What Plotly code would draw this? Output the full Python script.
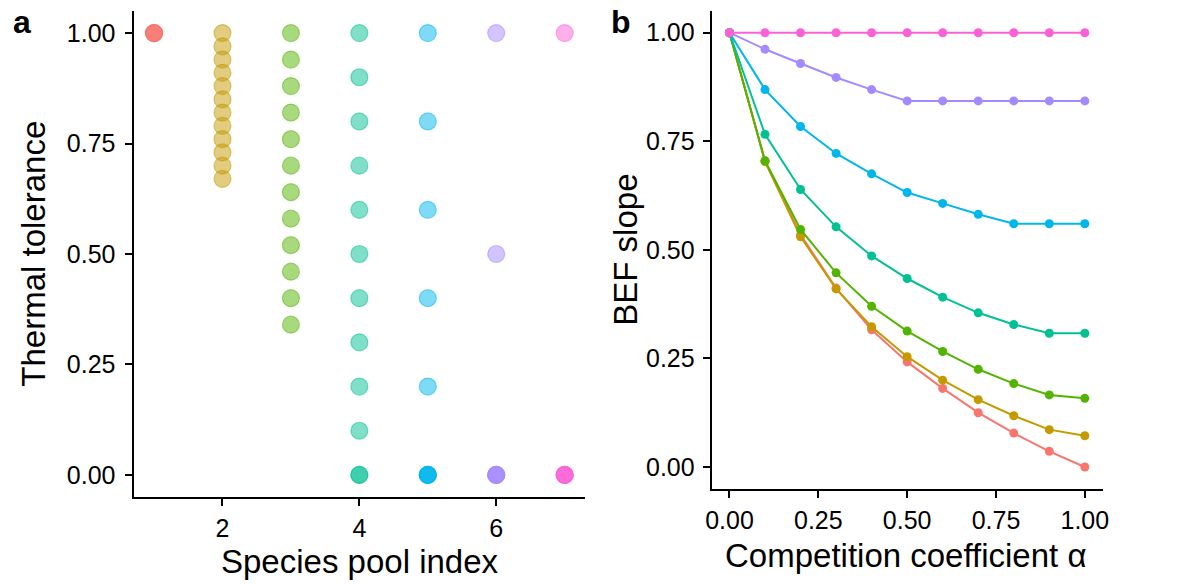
import plotly.graph_objects as go

# ---------------- data ----------------
pool_colors = ["#F8766D", "#C49A00", "#53B400", "#00C094", "#00B6EB", "#A58AFF", "#FB61D7"]
pool_ids = [1, 2, 3, 4, 5, 6, 7]

# Panel a: thermal tolerance of species in each pool (repeats = overlapping points)
pool1_tol = [1.0, 1.0, 1.0, 1.0]
pool2_tol = [1.00, 0.97, 0.94, 0.91, 0.88, 0.85, 0.82, 0.79, 0.76, 0.73, 0.70, 0.67]
pool3_tol = [1.00, 0.94, 0.88, 0.82, 0.76, 0.70, 0.64, 0.58, 0.52, 0.46, 0.40, 0.34]
pool4_tol = [1.0, 0.9, 0.8, 0.7, 0.6, 0.5, 0.4, 0.3, 0.2, 0.1, 0.0, 0.0]
pool5_tol = [1.0, 0.8, 0.6, 0.4, 0.2, 0.0, 0.0, 0.0, 0.0]
pool6_tol = [1.0, 0.5, 0.0, 0.0, 0.0, 0.0]
pool7_tol = [1.0, 0.0, 0.0, 0.0, 0.0]

# Panel b: BEF slope vs competition coefficient
alpha_vals = [0.0, 0.1, 0.2, 0.3, 0.4, 0.5, 0.6, 0.7, 0.8, 0.9, 1.0]
slope_pool1 = [1.0, 0.705, 0.535, 0.412, 0.316, 0.242, 0.181, 0.125, 0.078, 0.036, 0.0]
slope_pool2 = [1.0, 0.703, 0.530, 0.410, 0.323, 0.254, 0.200, 0.155, 0.118, 0.086, 0.072]
slope_pool3 = [1.0, 0.705, 0.547, 0.447, 0.370, 0.313, 0.266, 0.225, 0.192, 0.166, 0.158]
slope_pool4 = [1.0, 0.766, 0.639, 0.553, 0.486, 0.434, 0.391, 0.355, 0.328, 0.308, 0.308]
slope_pool5 = [1.0, 0.869, 0.784, 0.722, 0.675, 0.632, 0.607, 0.582, 0.560, 0.560, 0.560]
slope_pool6 = [1.0, 0.962, 0.929, 0.897, 0.869, 0.843, 0.843, 0.843, 0.843, 0.843, 0.843]
slope_pool7 = [1.0, 1.0, 1.0, 1.0, 1.0, 1.0, 1.0, 1.0, 1.0, 1.0, 1.0]

ya_ticks = [0.0, 0.25, 0.5, 0.75, 1.0]
xa_ticks = [2, 4, 6]
xb_ticks = [0.0, 0.25, 0.5, 0.75, 1.0]
yb_ticks = [0.0, 0.25, 0.5, 0.75, 1.0]

# ---------------- figure ----------------
W, H = 1203, 585
FONT = "Liberation Sans, Arial, sans-serif"


def rgba(hexc, a):
    h = hexc.lstrip("#")
    r, g, b = int(h[0:2], 16), int(h[2:4], 16), int(h[4:6], 16)
    return f"rgba({r},{g},{b},{a})"


fig = go.Figure()

tols = [pool1_tol, pool2_tol, pool3_tol, pool4_tol, pool5_tol, pool6_tol, pool7_tol]
for pid, tol, col in zip(pool_ids, tols, pool_colors):
    fig.add_trace(go.Scatter(
        x=[pid] * len(tol), y=tol, mode="markers",
        marker=dict(size=17, color=rgba(col, 0.5),
                    line=dict(color=rgba(col, 0.5), width=1.2)),
        xaxis="x", yaxis="y", showlegend=False, hoverinfo="x+y",
    ))

slopes = [slope_pool1, slope_pool2, slope_pool3, slope_pool4, slope_pool5, slope_pool6, slope_pool7]
for s, col in zip(slopes, pool_colors):
    fig.add_trace(go.Scatter(
        x=alpha_vals, y=s, mode="lines+markers",
        line=dict(color=col, width=2),
        marker=dict(size=9, color=col),
        xaxis="x2", yaxis="y2", showlegend=False,
    ))

axis_common = dict(
    showline=True, linecolor="black", linewidth=2,
    ticks="outside", ticklen=7, tickwidth=2, tickcolor="black",
    showgrid=False, zeroline=False,
    tickfont=dict(family=FONT, size=25, color="black"),
)

fig.update_layout(
    width=W, height=H,
    margin=dict(l=0, r=0, t=0, b=0),
    paper_bgcolor="white", plot_bgcolor="white",
    font=dict(family=FONT, color="black"),
    xaxis=dict(domain=[128 / W, 585 / W], range=[0.7, 7.3],
               tickvals=xa_ticks, anchor="y", ticklabelstandoff=1, **axis_common),
    yaxis=dict(domain=[(H - 497) / H, (H - 11) / H], range=[-0.05, 1.05],
               tickvals=ya_ticks, tickformat=".2f", anchor="x",
               ticklabelstandoff=4, **axis_common),
    xaxis2=dict(domain=[713 / W, 1108.5 / W], range=[-0.05, 1.05],
                tickvals=xb_ticks, tickformat=".2f", anchor="y2",
                ticklabelstandoff=1, **axis_common),
    yaxis2=dict(domain=[(H - 488.7) / H, (H - 11) / H], range=[-0.05, 1.05],
                tickvals=yb_ticks, tickformat=".2f", anchor="x2",
                ticklabelstandoff=3, **axis_common),
)

title_font = dict(family=FONT, size=33, color="black")
label_font = dict(family=FONT, size=32, color="black")
annots = [
    dict(text="Species pool index", x=357 / W, y=1 - 561 / H, textangle=0, font=title_font),
    dict(text="Competition coefficient α", x=910 / W, y=1 - 555 / H, textangle=0, font=title_font),
    dict(text="Thermal tolerance", x=26 / W, y=1 - 254 / H, textangle=-90, font=title_font),
    dict(text="BEF slope", x=625 / W, y=1 - 250 / H, textangle=-90, font=title_font),
    dict(text="<b>a</b>", x=15 / W, y=1 - 22 / H, textangle=0, font=label_font),
    dict(text="<b>b</b>", x=621 / W, y=1 - 22 / H, textangle=0, font=label_font),
]
for a in annots:
    fig.add_annotation(xref="paper", yref="paper", showarrow=False,
                       xanchor="center", yanchor="middle", **a)

fig.write_html("out.html")
